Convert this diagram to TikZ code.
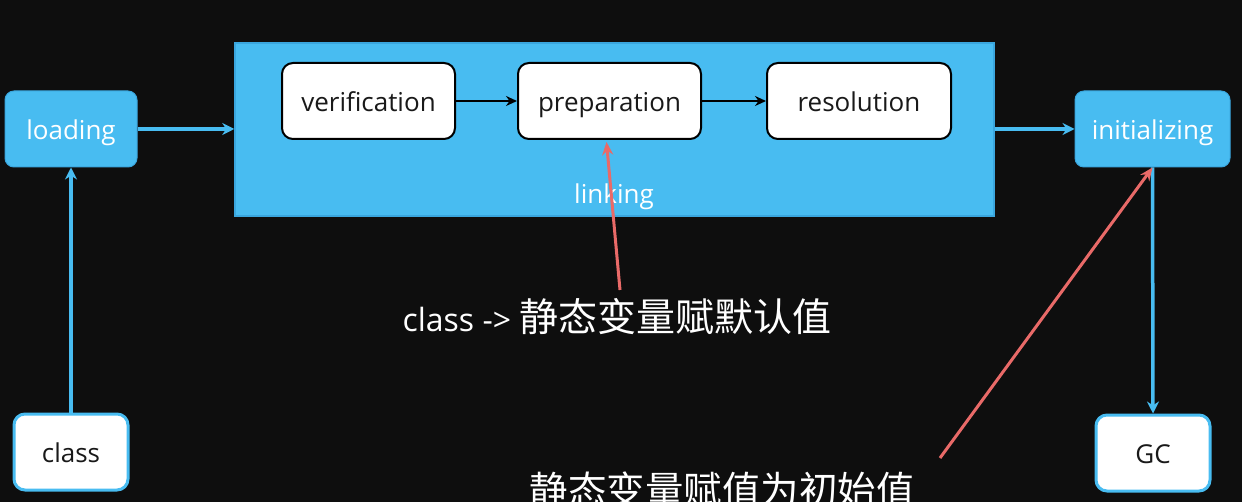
\documentclass[tikz,border=0pt]{standalone}
\usepackage{fontspec}
\setmainfont{Open Sans}
\newfontfamily\cjk{Noto Sans CJK SC}
\usetikzlibrary{arrows.meta,calc}
\definecolor{bg}{HTML}{0E0E0E}
\definecolor{sky}{HTML}{48BCF1}
\definecolor{skyedge}{HTML}{3AA6DE}
\definecolor{redline}{HTML}{E96A68}
\tikzset{
  boxfont/.style={font=\fontsize{26}{30}\selectfont, text height=23pt, text depth=2pt},
  bluebox/.style={draw=skyedge, line width=1pt, fill=sky, rounded corners=9pt, text=white, boxfont, inner sep=0pt},
  whitebox/.style={draw=black, line width=2pt, fill=white, rounded corners=11pt, text=black!90, boxfont, inner sep=0pt},
  endbox/.style={draw=sky, line width=3pt, fill=white, rounded corners=11pt, text=black!90, boxfont, inner sep=0pt},
  blueline/.style={draw=sky, line width=3.5pt, -{Stealth[length=12pt,width=12pt]}},
  blackline/.style={draw=black, line width=2.6pt, -{Stealth[length=11pt,width=10pt]}},
  redarrow/.style={draw=redline, line width=3pt, -{Stealth[length=13pt,width=11pt]}},
  note/.style={text=white, inner sep=0pt}
}
\begin{document}
\begin{tikzpicture}[x=1pt,y=-1pt]
\useasboundingbox (0,0) rectangle (1242,502);
\clip (0,0) rectangle (1242,502);
\fill[bg] (0,0) rectangle (1242,502);
% linking frame
\node[draw=skyedge, line width=1.5pt, fill=sky, minimum width=759pt, minimum height=173pt, inner sep=0pt] (linking) at (614.5,129.5) {};
\node[note, boxfont] (linklabel) at (614,193) {linking};
% nodes
\node[bluebox, minimum width=132pt, minimum height=76pt] (loading) at (71,129) {loading};
\node[whitebox, minimum width=173pt, minimum height=76pt] (verification) at (368.5,101) {verification};
\node[whitebox, minimum width=183pt, minimum height=76pt] (preparation) at (609.5,101) {preparation};
\node[whitebox, minimum width=184pt, minimum height=76pt] (resolution) at (859,101) {resolution};
\node[bluebox, minimum width=155pt, minimum height=76pt] (initializing) at (1152.5,129) {initializing};
\node[endbox, minimum width=114pt, minimum height=76pt] (gc) at (1153,453) {GC};
\node[endbox, minimum width=114pt, minimum height=76pt] (class) at (71,452) {class};
% notes
\node[note, anchor=base] (note1) at (617,332) {\fontsize{32}{36}\selectfont class -> {\cjk\fontsize{39}{40}\selectfont 静态变量赋默认值}};
\node[note, anchor=base] (note2) at (722,504) {\cjk\fontsize{38.5}{40}\selectfont 静态变量赋值为初始值};
\coordinate (t1) at (620,290);
\coordinate (t2) at (940,458);
% connectors
\draw[blackline] (verification) -- (preparation);
\draw[blackline] (preparation) -- (resolution);
\draw[blueline] (loading.east) -- (loading.east -| linking.west);
\draw[blueline] (initializing.west -| linking.east) -- (initializing.west);
\draw[blueline] (class.north) -- (loading.south);
\draw[blueline] (initializing.south) -- (gc.north);
\draw[redarrow] (t1) -- ($(preparation.south)+(-3,2)$);
\draw[redarrow] (t2) -- (initializing.south);
\end{tikzpicture}
\end{document}
